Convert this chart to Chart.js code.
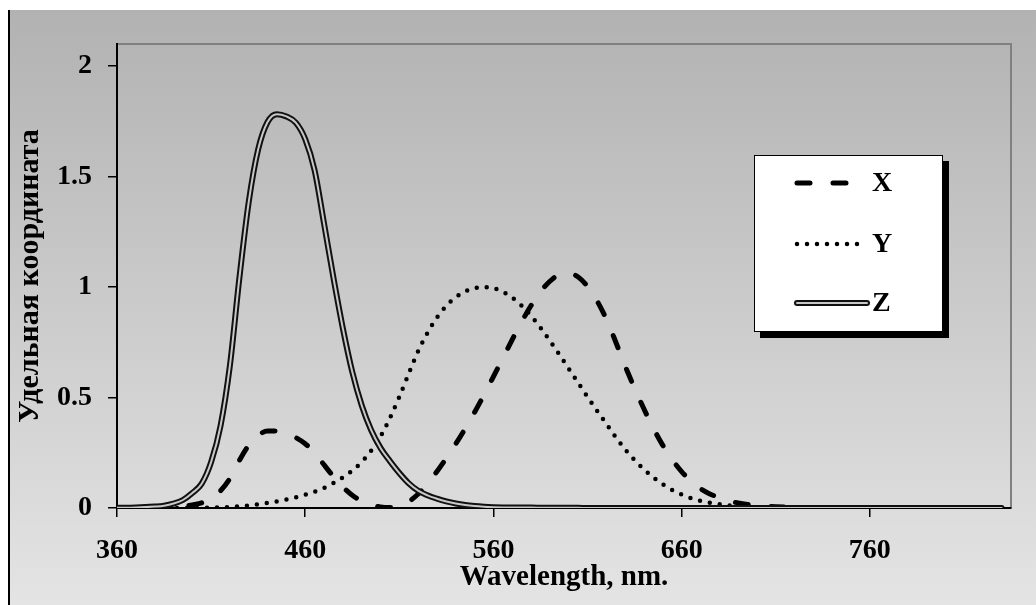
<!DOCTYPE html>
<html>
<head>
<meta charset="utf-8">
<script src="https://cdn.jsdelivr.net/npm/chart.js@4.4.1/dist/chart.umd.min.js"></script>
<style>
  body { margin: 0; background: #fff; }
  #wrap { width: 1036px; height: 605px; }
</style>
</head>
<body>
<div id="wrap"><canvas id="cmf" width="1036" height="605"></canvas></div>
<script>
// CIE colour matching functions
const wavelengths = [
  360, 370, 380, 385, 390, 395, 400, 405, 410, 415,
  420, 425, 430, 435, 440, 445, 450, 455, 460, 465,
  470, 475, 480, 485, 490, 495, 500, 505, 510, 515,
  520, 525, 530, 535, 540, 545, 550, 555, 560, 565,
  570, 575, 580, 585, 590, 595, 600, 605, 610, 615,
  620, 625, 630, 635, 640, 645, 650, 655, 660, 665,
  670, 675, 680, 685, 690, 695, 700, 710, 720, 730,
  740, 750, 760, 770, 780, 790, 800, 810, 820, 830
];
const xBar = [
  0.0001, 0.0004, 0.0014, 0.0022, 0.0042, 0.0077, 0.0143, 0.0232, 0.0435, 0.0776,
  0.1344, 0.2148, 0.2839, 0.3285, 0.3483, 0.3481, 0.3362, 0.3187, 0.2908, 0.2511,
  0.1954, 0.1421, 0.0956, 0.0580, 0.0320, 0.0147, 0.0049, 0.0024, 0.0093, 0.0291,
  0.0633, 0.1096, 0.1655, 0.2257, 0.2904, 0.3597, 0.4334, 0.5121, 0.5945, 0.6784,
  0.7621, 0.8425, 0.9163, 0.9786, 1.0263, 1.0567, 1.0622, 1.0456, 1.0026, 0.9384,
  0.8544, 0.7514, 0.6424, 0.5419, 0.4479, 0.3608, 0.2835, 0.2187, 0.1649, 0.1212,
  0.0874, 0.0636, 0.0468, 0.0329, 0.0227, 0.0158, 0.0114, 0.0058, 0.0029, 0.0014,
  0.0007, 0.0003, 0.0002, 0.0001, 0, 0, 0, 0, 0, 0
];
const yBar = [
  0, 0, 0, 0.0001, 0.0001, 0.0002, 0.0004, 0.0006, 0.0012, 0.0022,
  0.0040, 0.0073, 0.0116, 0.0168, 0.0230, 0.0298, 0.0380, 0.0480, 0.0600, 0.0739,
  0.0910, 0.1126, 0.1390, 0.1693, 0.2080, 0.2586, 0.3230, 0.4073, 0.5030, 0.6082,
  0.7100, 0.7932, 0.8620, 0.9149, 0.9540, 0.9803, 0.9950, 1.0000, 0.9950, 0.9786,
  0.9520, 0.9154, 0.8700, 0.8163, 0.7570, 0.6949, 0.6310, 0.5668, 0.5030, 0.4412,
  0.3810, 0.3210, 0.2650, 0.2170, 0.1750, 0.1382, 0.1070, 0.0816, 0.0610, 0.0446,
  0.0320, 0.0232, 0.0170, 0.0119, 0.0082, 0.0057, 0.0041, 0.0021, 0.0010, 0.0005,
  0.0002, 0.0001, 0.0001, 0, 0, 0, 0, 0, 0, 0
];
const zBar = [
  0.0006, 0.0019, 0.0065, 0.0106, 0.0201, 0.0362, 0.0679, 0.1102, 0.2074, 0.3713,
  0.6456, 1.0391, 1.3856, 1.6230, 1.7471, 1.7826, 1.7721, 1.7441, 1.6692, 1.5281,
  1.2876, 1.0419, 0.8130, 0.6162, 0.4652, 0.3533, 0.2720, 0.2123, 0.1582, 0.1117,
  0.0783, 0.0573, 0.0422, 0.0298, 0.0203, 0.0134, 0.0088, 0.0058, 0.0039, 0.0028,
  0.0021, 0.0018, 0.0017, 0.0014, 0.0011, 0.0010, 0.0008, 0.0006, 0.0003, 0.0002,
  0.0002, 0.0001, 0.0001, 0, 0, 0, 0, 0, 0, 0,
  0, 0, 0, 0, 0, 0, 0, 0, 0, 0,
  0, 0, 0, 0, 0, 0, 0, 0, 0, 0
];
const seriesNames = ['X', 'Y', 'Z'];
const xTicks = [360, 460, 560, 660, 760];
const yTicks = [0, 0.5, 1, 1.5, 2];
const xTitle = 'Wavelength, nm.';
const yTitle = 'Удельная координата';

const FONT = '"Liberation Serif", "Times New Roman", serif';

function points(values) {
  return wavelengths.map((w, i) => ({ x: w, y: values[i] }));
}

// gray gradient backdrop, frame line on the left, plot frame top/right
const backdrop = {
  id: 'backdrop',
  beforeDraw(chart) {
    const { ctx, width, height, chartArea: a } = chart;
    ctx.save();
    ctx.fillStyle = '#fff';
    ctx.fillRect(0, 0, width, height);
    const g = ctx.createLinearGradient(0, 10, 0, height);
    g.addColorStop(0, '#b2b2b2');
    g.addColorStop(1, '#e4e4e4');
    ctx.fillStyle = g;
    ctx.fillRect(8, 10, width - 8, height - 10);
    ctx.strokeStyle = '#000';
    ctx.lineWidth = 2;
    ctx.beginPath();
    ctx.moveTo(9, 10);
    ctx.lineTo(9, height);
    ctx.stroke();
    ctx.strokeStyle = '#808080';
    ctx.beginPath();
    ctx.moveTo(a.left, a.top);
    ctx.lineTo(a.right, a.top);
    ctx.lineTo(a.right, a.bottom);
    ctx.stroke();
    ctx.restore();
  }
};

// boxed legend with drop shadow, samples taken from the datasets
const boxLegend = {
  id: 'boxLegend',
  afterDraw(chart) {
    const ctx = chart.ctx;
    const box = { x: 754, y: 155, w: 189, h: 177 };
    const rows = [183, 244, 303];
    const ends = [852, 861, 867];
    const sx = 797;
    ctx.save();
    ctx.fillStyle = '#000';
    ctx.fillRect(box.x + 6, box.y + 6, box.w, box.h);
    ctx.fillStyle = '#fff';
    ctx.fillRect(box.x, box.y, box.w, box.h);
    ctx.strokeStyle = '#000';
    ctx.lineWidth = 1;
    ctx.strokeRect(box.x + 0.5, box.y + 0.5, box.w - 1, box.h - 1);

    const sets = chart.data.datasets;
    seriesNames.forEach((name, i) => {
      const y = rows[i];
      sets.filter(d => d.label === name || d.label === name + '-inner').forEach(d => {
        ctx.strokeStyle = d.borderColor;
        ctx.lineWidth = d.borderWidth;
        ctx.setLineDash(d.borderDash || []);
        ctx.lineCap = d.borderCapStyle || 'round';
        ctx.beginPath();
        ctx.moveTo(sx, y);
        ctx.lineTo(ends[i], y);
        ctx.stroke();
      });
      ctx.setLineDash([]);
      ctx.fillStyle = '#000';
      ctx.font = 'bold 28px ' + FONT;
      ctx.textBaseline = 'middle';
      ctx.textAlign = 'left';
      ctx.fillText(name, 872, y + 1);
    });
    ctx.restore();
  }
};

const tickFont = { family: FONT, size: 28, weight: 'bold' };

new Chart(document.getElementById('cmf'), {
  type: 'line',
  data: {
    datasets: [
      { label: seriesNames[0], data: points(xBar), borderColor: '#000', borderWidth: 5,
        borderDash: [13, 23], borderCapStyle: 'round', order: 4 },
      { label: seriesNames[1], data: points(yBar), borderColor: '#000', borderWidth: 4.5,
        borderDash: [0, 10], borderCapStyle: 'round', order: 3 },
      { label: seriesNames[2], data: points(zBar), borderColor: '#111', borderWidth: 6,
        borderCapStyle: 'round', order: 2 },
      { label: seriesNames[2] + '-inner', data: points(zBar), borderColor: '#c8c8c8', borderWidth: 2,
        borderCapStyle: 'round', order: 1 }
    ]
  },
  options: {
    responsive: false,
    animation: false,
    events: [],
    elements: {
      point: { radius: 0 },
      line: { cubicInterpolationMode: 'monotone', borderJoinStyle: 'round', fill: false }
    },
    layout: { padding: { top: 44, right: 25, left: 0, bottom: 0 } },
    plugins: { legend: { display: false }, tooltip: { enabled: false } },
    scales: {
      x: {
        type: 'linear',
        min: 360,
        max: 835,
        afterBuildTicks: s => { s.ticks = xTicks.map(v => ({ value: v })); },
        afterFit: s => { s.height = 97; },
        grid: { drawOnChartArea: false, drawTicks: true, tickLength: 9, color: '#000', lineWidth: 1.5 },
        border: { display: true, color: '#000', width: 2 },
        ticks: { color: '#000', font: tickFont, padding: 17, maxRotation: 0, autoSkip: false,
                 callback: v => String(v) },
        title: { display: true, text: xTitle, color: '#000',
                 font: { family: FONT, size: 29, weight: 'bold' }, padding: { top: 0, bottom: 10 } }
      },
      y: {
        type: 'linear',
        min: 0,
        max: 2.1,
        afterBuildTicks: s => { s.ticks = yTicks.map(v => ({ value: v })); },
        afterFit: s => { s.width = 117; },
        grid: { drawOnChartArea: false, drawTicks: true, tickLength: 9, color: '#000', lineWidth: 1.5 },
        border: { display: true, color: '#000', width: 2 },
        ticks: { color: '#000', font: tickFont, padding: 16, callback: v => String(v) },
        title: { display: true, text: yTitle, color: '#000',
                 font: { family: FONT, size: 30, weight: 'bold' }, padding: { top: 12, bottom: 0 } }
      }
    }
  },
  plugins: [backdrop, boxLegend]
});
</script>
</body>
</html>
